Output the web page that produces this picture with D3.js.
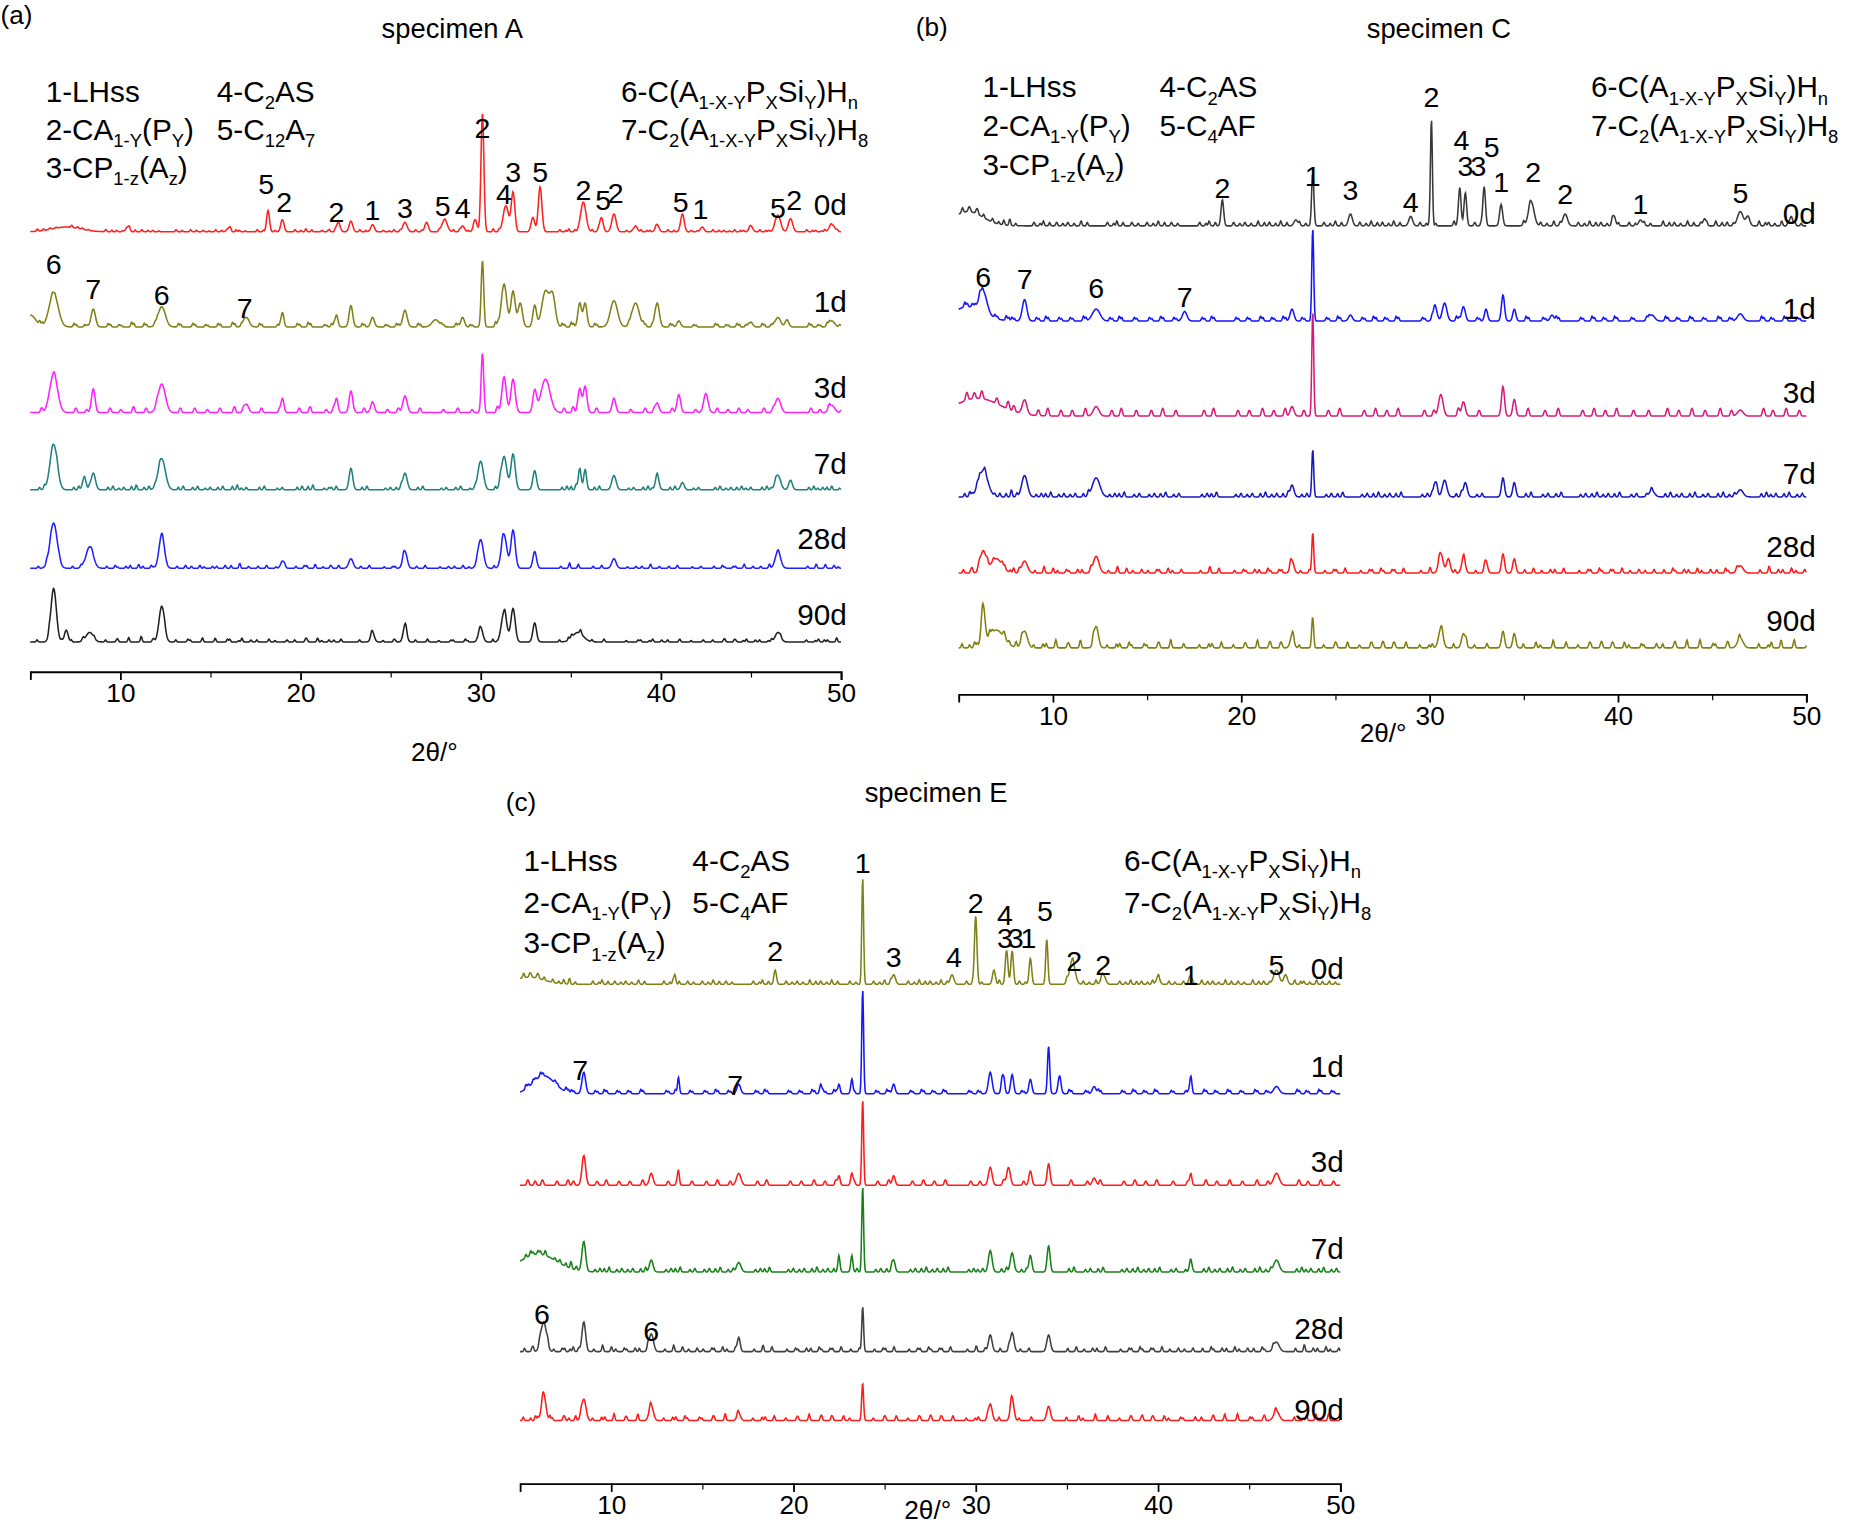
<!DOCTYPE html>
<html><head><meta charset="utf-8">
<script src="https://cdn.jsdelivr.net/npm/d3@7"></script>
<style>body{margin:0;background:#fff}text{font-family:"Liberation Sans",Arial,sans-serif;fill:#000}</style>
</head><body><svg id="chart"></svg>
<script>
// peaks: [2theta, height, width]
const days = ["0d", "1d", "3d", "7d", "28d", "90d"];
const xTicks = [10, 20, 30, 40, 50];

const rippleA = [[5.4,3],[6.1,2],[7.3,3],[7.9,2],[9.2,3],[9.8,2],[10.5,4],[11.2,3],[11.8,2],[13.1,3],[13.9,3],[14.6,2],[15.3,3],[16.1,4],[16.6,2],[17.6,3],[18.6,2],[19.7,3],[20.3,4],[21.2,2],[21.6,3],[23.3,3],[24.6,2],[25.2,3],[26.4,3],[27.7,2],[28.5,3],[29.3,2],[30.7,4],[34.4,3],[34.9,4],[36.2,3],[38.1,2],[38.9,3],[39.4,2],[40.4,3],[41.7,2],[42.9,3],[43.5,2],[44.1,3],[44.6,2],[45.5,3],[46.0,2],[48.1,3],[48.6,2],[49.1,3],[49.8,2]];
const rippleB = [[5.2,4],[5.6,3],[6.0,4],[6.8,3],[7.4,4],[7.7,3],[9.0,3],[9.5,4],[10.2,3],[10.8,3],[11.5,4],[12.9,3],[13.4,4],[14.2,3],[15.0,3],[15.6,4],[16.3,3],[17.8,3],[18.3,4],[19.6,3],[20.2,3],[20.9,4],[21.5,3],[22.1,4],[23.1,3],[24.4,3],[25.0,4],[26.3,3],[26.9,4],[27.5,3],[28.1,4],[29.5,3],[30.0,3],[31.3,4],[32.4,3],[35.0,4],[35.9,3],[36.6,4],[37.9,3],[38.5,4],[39.1,3],[39.7,4],[40.6,3],[41.4,3],[42.4,4],[43.0,3],[43.7,4],[44.4,3],[45.2,4],[45.8,3],[47.5,4],[48.0,3],[48.7,4],[49.4,3]];

const peaksA = [
  [[7,4,0.8],[10.4,4,0.1],[16,3,0.1],[18.2,18,0.08],[19,10,0.09],[22.1,8,0.1],[22.8,9,0.1],[24,6,0.1],[25.8,8,0.12],[27,8,0.1],[28,10,0.15],[29,5,0.1],[29.7,10,0.1],[30.1,100,0.08],[31.4,22,0.15],[31.8,33,0.1],[32.9,12,0.1],[33.3,38,0.1],[35.7,25,0.15],[36.7,12,0.1],[37.4,15,0.12],[38.6,5,0.1],[39.8,6,0.1],[41.2,15,0.1],[42.3,4,0.1],[45,5,0.1],[46.5,14,0.15],[47.2,11,0.12],[49.5,6,0.15]],
  [[5,10,0.3],[6.3,28,0.25],[8.5,15,0.12],[12.3,17,0.2],[17,8,0.15],[19,12,0.08],[22,10,0.08],[22.8,18,0.1],[24,8,0.1],[25.8,14,0.12],[27.5,6,0.2],[29,8,0.1],[30.1,56,0.07],[31.3,36,0.15],[31.8,30,0.12],[32.2,20,0.12],[33,18,0.1],[33.6,30,0.2],[34,25,0.15],[35.5,20,0.1],[35.8,20,0.1],[37.4,22,0.2],[38.6,20,0.2],[39.8,20,0.12],[41,5,0.1],[45,4,0.1],[46.5,8,0.15],[47,6,0.1],[49.5,5,0.15]],
  [[6.3,32,0.22],[8.5,20,0.1],[12.3,24,0.2],[17,7,0.12],[19,12,0.08],[22,12,0.08],[22.8,18,0.1],[24,9,0.1],[25.8,14,0.12],[30.1,50,0.07],[31.3,30,0.12],[31.8,28,0.12],[33,18,0.1],[33.6,28,0.25],[35.5,20,0.1],[35.8,22,0.1],[37.4,12,0.1],[39.8,8,0.1],[41,15,0.1],[42.5,16,0.12],[46.5,12,0.15],[49.5,6,0.15]],
  [[6.3,38,0.2],[8.0,10,0.1],[8.5,14,0.12],[12.3,26,0.2],[22.8,18,0.1],[25.8,14,0.12],[30,24,0.15],[31.3,28,0.15],[31.8,30,0.12],[33,16,0.1],[35.5,18,0.08],[35.8,17,0.08],[37.4,12,0.12],[39.8,12,0.1],[41.2,6,0.1],[46.5,12,0.15],[47.2,8,0.1]],
  [[6.3,38,0.2],[8.3,18,0.2],[12.3,28,0.15],[19,6,0.1],[22.8,8,0.12],[25.8,14,0.12],[30,24,0.15],[31.3,28,0.15],[31.8,32,0.12],[33,14,0.1],[37.4,8,0.12],[46.5,14,0.15]],
  [[6.3,45,0.15],[7,10,0.1],[8.3,8,0.2],[12.3,30,0.15],[24,8,0.1],[25.8,14,0.1],[30,12,0.12],[31.3,25,0.15],[31.8,28,0.12],[33,16,0.1],[35.4,8,0.3],[46.5,8,0.15]]
];
const peaksC = [
  [[5.5,12,0.8],[19,22,0.07],[22.9,5,0.1],[23.8,45,0.06],[25.8,10,0.1],[29,8,0.1],[30.1,90,0.05],[31.6,30,0.07],[31.9,28,0.07],[32.9,33,0.07],[33.8,18,0.08],[35.4,20,0.15],[37.2,10,0.12],[39.8,8,0.08],[41.2,5,0.1],[44.6,6,0.08],[46.5,12,0.15],[46.9,8,0.1],[49.2,8,0.08]],
  [[5.5,12,0.8],[6.3,18,0.2],[8.5,18,0.12],[12.3,10,0.2],[17,8,0.12],[22.7,10,0.1],[23.8,78,0.05],[25.8,5,0.1],[30.3,12,0.1],[30.8,15,0.12],[31.8,12,0.1],[33,10,0.08],[33.9,22,0.08],[34.5,10,0.08],[36.5,5,0.1],[41.8,5,0.15],[46.5,6,0.15]],
  [[6,15,1.2],[8.5,12,0.12],[12.3,8,0.15],[22.7,8,0.1],[23.8,88,0.05],[30.6,18,0.12],[31.8,12,0.1],[33.9,25,0.08],[34.5,14,0.08],[46.5,5,0.15]],
  [[6.3,22,0.25],[8.5,18,0.15],[12.3,16,0.2],[22.7,10,0.1],[23.8,40,0.05],[30.3,12,0.1],[30.8,14,0.12],[31.9,12,0.1],[33.9,16,0.08],[34.5,12,0.08],[41.8,5,0.15],[46.5,6,0.15]],
  [[6.3,18,0.15],[7,12,0.3],[8.5,10,0.15],[12.3,14,0.15],[22.7,10,0.1],[23.8,34,0.05],[30.6,16,0.12],[31,12,0.1],[31.8,12,0.1],[33,10,0.08],[33.9,16,0.08],[34.5,12,0.08],[46.5,6,0.15]],
  [[6.3,32,0.1],[7,15,0.4],[8.5,14,0.15],[12.3,18,0.12],[22.7,10,0.1],[23.8,24,0.05],[30.6,16,0.12],[31.8,12,0.1],[33.9,14,0.08],[34.5,12,0.08],[46.5,8,0.15]]
];
const peaksE = [
  [[5.5,6,0.8],[13.5,8,0.05],[19,12,0.07],[23.8,90,0.05],[25.5,8,0.1],[28.7,8,0.1],[30,55,0.07],[31,12,0.08],[31.7,28,0.07],[32,28,0.07],[33,22,0.07],[33.9,38,0.06],[35.3,20,0.15],[37,8,0.12],[40,6,0.1],[41.8,6,0.1],[46.5,12,0.15],[47,8,0.1]],
  [[6.3,15,0.6],[8.5,18,0.1],[13.7,12,0.05],[17,8,0.1],[21.5,8,0.06],[22.5,8,0.06],[23.2,10,0.06],[23.8,88,0.05],[25.5,8,0.08],[30.8,18,0.1],[31.5,14,0.08],[32,16,0.08],[33,12,0.08],[34,40,0.06],[34.6,15,0.08],[36.5,6,0.1],[41.8,15,0.06],[46.5,6,0.15]],
  [[8.5,25,0.1],[12.2,10,0.1],[13.7,10,0.05],[17,10,0.12],[22.5,8,0.06],[23.2,10,0.06],[23.8,72,0.05],[25.5,8,0.08],[30.8,15,0.1],[31.8,15,0.1],[33,12,0.08],[34,18,0.08],[36.5,6,0.1],[41.8,10,0.06],[46.5,10,0.15]],
  [[6,15,1.0],[8.5,25,0.1],[12.2,10,0.1],[17,8,0.12],[22.5,10,0.06],[23.2,12,0.06],[23.8,72,0.05],[25.5,10,0.08],[30.8,18,0.1],[32,16,0.1],[33,14,0.08],[34,22,0.08],[41.8,8,0.08],[46.5,10,0.15]],
  [[6.3,25,0.15],[8.5,25,0.1],[12.2,15,0.12],[17,12,0.08],[23.8,38,0.05],[30.8,14,0.1],[32,16,0.1],[34,14,0.1],[46.5,8,0.15]],
  [[6.3,22,0.12],[8.5,18,0.12],[12.2,12,0.12],[17,6,0.1],[23.8,30,0.05],[30.8,14,0.1],[32,18,0.1],[34,12,0.1],[46.5,8,0.15]]
];

const legendLeft = ["1-LHss", "2-CA_{1-Y}(P_{Y})", "3-CP_{1-z}(A_{z})"];
const legendMidA = ["4-C_{2}AS", "5-C_{12}A_{7}"];
const legendMidCE = ["4-C_{2}AS", "5-C_{4}AF"];
const legendRight = ["6-C(A_{1-X-Y}P_{X}Si_{Y})H_{n}", "7-C_{2}(A_{1-X-Y}P_{X}Si_{Y})H_{8}"];

// phase labels: [text, 2theta, y]
const annA = [["5",18.1,155],["2",19.1,170],["2",22.0,178],["1",24.0,177],["3",25.8,175],["5",27.9,173],["4",29.0,175],["2",30.1,108],["3",31.8,145],["4",31.3,163],["5",33.3,145],["2",35.7,160],["5",36.8,168],["2",37.5,162],["5",41.1,170],["1",42.2,176],["5",46.5,175],["2",47.4,168],["6",6.3,222],["7",8.5,243],["6",12.3,248],["7",16.9,259]];
const annC = [["2",19.0,158],["1",23.8,148],["3",25.8,160],["4",29.0,170],["2",30.1,82],["4",31.7,118],["3",31.9,140],["3",32.6,140],["5",33.3,124],["1",33.8,153],["2",35.5,145],["2",37.2,163],["1",41.2,172],["5",46.5,162],["6",6.3,233],["7",8.5,235],["6",12.3,242],["7",17.0,250]];
const annE = [["2",19.0,800],["1",23.8,726],["3",25.5,805],["4",28.8,805],["2",30.0,760],["4",31.6,770],["3",31.6,789],["3",32.2,789],["1",32.9,789],["5",33.8,766],["2",35.4,808],["2",37.0,812],["1",41.8,820],["5",46.5,812],["7",8.3,900],["7",16.8,913],["6",6.2,1105],["6",12.2,1120]];

const panels = [
  {tag:"(a)", title:"specimen A", x0:25, x1:707, axisY:565, tagXY:[0,20], titleXY:[380,32], labXY:[365,640],
   base:[195,275,347,412,478,540], dayY:[172,254,326,390,453,517], dayX:712,
   colors:["#ff2020","#808018","#ff20ff","#208080","#2020ff","#202020"], peaks:peaksA, ripple:rippleA, rip:[0.6,1,1,1,0.8,0.8],
   ann:annA, legX:[38,182,522], legY:[86,118,150], mid:legendMidA},
  {tag:"(b)", title:"specimen C", x0:806, x1:1519, axisY:584, tagXY:[770,30], titleXY:[1210,32], labXY:[1163,624],
   base:[190,270,350,418,482,545], dayY:[180,260,330,398,460,522], dayX:1527,
   colors:["#383838","#1515ff","#d81b7a","#1818c0","#ff1a1a","#808010"], peaks:peaksC, ripple:rippleB, rip:[1,1,1.3,1,1,1.2],
   ann:annC, legX:[826,975,1338], legY:[82,114,147], mid:legendMidCE},
  {tag:"(c)", title:"specimen E", x0:437, x1:1127, axisY:1248, tagXY:[425,682], titleXY:[787,675], labXY:[780,1278],
   base:[828,920,997,1070,1137,1195], dayY:[815,897,977,1050,1118,1186], dayX:1130,
   colors:["#808018","#1515ff","#ff1a1a","#188018","#404040","#ff1a1a"], peaks:peaksE, ripple:rippleB, rip:[0.9,0.9,0.9,1,1,1],
   ann:annE, legX:[440,582,945], legY:[733,768,802], mid:legendMidCE}
];

const svg = d3.select("#chart").attr("width",1865).attr("height",1524).attr("viewBox","0 0 1568 1282");
const grid = d3.range(5, 50.001, 0.03);

function richText(g, str, x, y, size) {
  const t = g.append("text").attr("x", x).attr("y", y).attr("font-size", size);
  str.split(/(_\{[^}]*\})/).filter(s => s).forEach(s => {
    if (s.startsWith("_{")) {
      t.append("tspan").text(s.slice(2, -1)).attr("font-size", size * 0.62).attr("dy", 6);
      t.append("tspan").text("\u200B").attr("font-size", size).attr("dy", -6);
    } else t.append("tspan").attr("font-size", size).text(s);
  });
}

panels.forEach(p => {
  const g = svg.append("g");
  const x = d3.scaleLinear().domain([5, 50]).range([p.x0, p.x1]);
  g.append("g").attr("transform", `translate(0,${p.axisY})`)
    .call(d3.axisBottom(x).tickValues(xTicks).tickSize(7).tickFormat(d3.format("d")))
    .call(a => a.selectAll("text").attr("font-size", 22).attr("y", 10).attr("dy", "0.71em").style("font-family", "Liberation Sans, Arial"))
    .call(a => a.select(".domain").attr("stroke-width", 1.5))
    .call(a => a.selectAll(".tick line").attr("stroke-width", 1.5));
  g.append("g").attr("transform", `translate(0,${p.axisY})`)
    .call(d3.axisBottom(x).tickValues([5,15,25,35,45]).tickSize(5).tickFormat(""))
    .call(a => a.select(".domain").remove());

  p.peaks.forEach((pk, i) => {
    const y = d3.scaleLinear().domain([0, 100]).range([p.base[i], p.base[i] - 100]);
    const rip = p.ripple.map(r => [r[0] + i * 0.13, r[1] * p.rip[i], 0.045])
      .concat(p.ripple.map(r => [r[0] + 0.33 - i * 0.07, r[1] * p.rip[i] * 0.7, 0.04]));
    const all = pk.concat(rip);
    const line = d3.line().x(d => x(d)).y(d => y(d3.sum(all, q => q[1] * Math.exp(-0.5 * ((d - q[0]) / q[2]) ** 2))));
    g.append("path").datum(grid).attr("d", line).attr("fill", "none").attr("stroke", p.colors[i]).attr("stroke-width", 1.3);
    g.append("text").attr("x", p.dayX).attr("y", p.dayY[i]).attr("dy", "0.35em").attr("text-anchor", "end").attr("font-size", 25).text(days[i]);
  });

  p.ann.forEach(a => g.append("text").attr("x", x(a[1])).attr("y", a[2]).attr("dy", "0.35em")
    .attr("text-anchor", "middle").attr("font-size", 24).text(a[0]));

  legendLeft.forEach((s, i) => richText(g, s, p.legX[0], p.legY[i], 25));
  p.mid.forEach((s, i) => richText(g, s, p.legX[1], p.legY[i], 25));
  legendRight.forEach((s, i) => richText(g, s, p.legX[2], p.legY[i], 25));

  g.append("text").attr("x", p.tagXY[0]).attr("y", p.tagXY[1]).attr("font-size", 22).text(p.tag);
  g.append("text").attr("x", p.titleXY[0]).attr("y", p.titleXY[1]).attr("text-anchor", "middle").attr("font-size", 23).text(p.title);
  g.append("text").attr("x", p.labXY[0]).attr("y", p.labXY[1]).attr("text-anchor", "middle").attr("font-size", 22).text("2θ/°");
});
</script></body></html>
